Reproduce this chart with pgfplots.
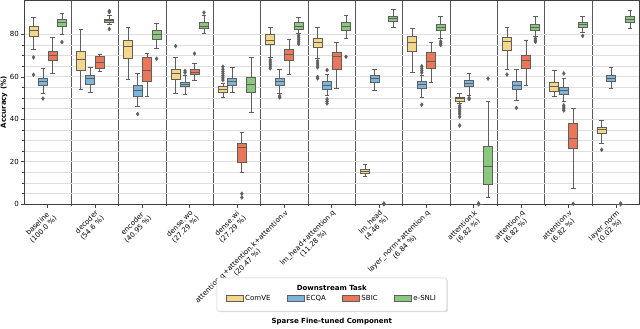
\documentclass[border=0pt]{standalone}
\usepackage{fontspec}
\setmainfont{DejaVu Sans}
\usepackage{pgfplots}
\pgfplotsset{compat=1.18}
\usepgfplotslibrary{statistics}
\usetikzlibrary{shadows}

\definecolor{cC}{HTML}{F5D78A}
\definecolor{cE}{HTML}{7DB5DA}
\definecolor{cS}{HTML}{EC7658}
\definecolor{cN}{HTML}{8BC77E}
\definecolor{lg}{HTML}{5F5F5F}

\pgfplotsset{bxs/.style={draw=lg, line width=0.8pt, mark=diamond*, mark size=2pt,
  mark options={fill=lg, draw=lg, line width=0.3pt},
  boxplot/draw direction=y,
  boxplot/box extend=0.19, boxplot/whisker extend=0.095, forget plot}}
% pos, low whisker, q1, median, q3, high whisker, colour, outliers
\newcommand{\bx}[8]{\addplot[bxs, fill=#7, boxplot prepared={draw position=#1,
  lower whisker=#2, lower quartile=#3, median=#4, upper quartile=#5, upper whisker=#6}]
  table[row sep=\\, y index=0] {y\\ #8};}

\begin{document}
\begin{tikzpicture}
\begin{axis}[
  scale only axis, width=613pt, height=203pt,
  xmin=-0.5, xmax=12.5, ymin=0, ymax=96,
  clip mode=individual,
  axis line style={draw=black!75, line width=0.9pt},
  xtick={0,...,12},
  xticklabels={{baseline\\(100.0 \%)},{decoder\\(54.6 \%)},{encoder\\(40.95 \%)},
    {dense.wo\\(27.29 \%)},{dense.wi\\(27.29 \%)},{attention.q+attention.k+attention.v\\(20.47 \%)},
    {lm\_head+attention.q\\(11.28 \%)},{lm\_head\\(4.46 \%)},{layer\_norm+attention.q\\(6.84 \%)},
    {attention.k\\(6.82 \%)},{attention.q\\(6.82 \%)},{attention.v\\(6.82 \%)},{layer\_norm\\(0.02 \%)}},
  minor xtick={0.5,1.5,...,11.5},
  xminorgrids, minor x grid style={black!65, line width=0.9pt},
  ytick={0,20,40,60,80}, minor y tick num=3,
  ymajorgrids, yminorgrids,
  major y grid style={black!13, line width=0.8pt},
  minor y grid style={black!13, line width=0.8pt},
  tick align=outside, tick pos=left,
  major tick length=3.5pt, minor tick length=2pt,
  every tick/.style={black!75, line width=0.7pt},
  /pgf/number format/assume math mode=true,
  xticklabel style={rotate=45, anchor=north east, align=center, inner sep=1pt,
    font=\fontsize{7}{8}\selectfont},
  yticklabel style={font=\fontsize{7}{8}\selectfont, inner sep=1.5pt},
  ylabel={\textbf{Accuracy (\%)}},
  ylabel style={at={(axis description cs:-0.026,0.5)}, anchor=south, inner sep=0.5pt,
    font=\fontsize{7}{8}\selectfont},
  xlabel={\textbf{Sparse Fine-tuned Component}},
  xlabel style={at={(axis description cs:0.5,-0.576)}, anchor=center, font=\fontsize{7}{8}\selectfont},
  legend columns=4,
  legend style={draw=none, fill=none, at={(0.5,-0.463)}, anchor=center,
    font=\fontsize{7}{8}\selectfont, /tikz/every even column/.append style={column sep=14pt}},
  legend image code/.code={\draw[#1] (0pt,-3pt) rectangle (17pt,3pt);},
]
% baseline
\bx{-0.3}{73.0}{79.0}{81.8}{83.6}{88.2}{cC}{69.2\\ 61.0\\}
\bx{-0.1}{52.1}{55.8}{58.0}{59.2}{63.8}{cE}{49.8\\}
\bx{0.1}{61.8}{67.8}{70.3}{72.2}{78.5}{cS}{}
\bx{0.3}{80.1}{83.6}{85.6}{87.0}{90.0}{cN}{76.4\\}
% decoder
\bx{0.7}{54.0}{63.0}{68.1}{72.2}{82.3}{cC}{}
\bx{0.9}{52.9}{56.5}{59.2}{60.7}{64.6}{cE}{}
\bx{1.1}{62.5}{63.8}{66.8}{69.7}{70.8}{cS}{}
\bx{1.3}{84.5}{85.5}{86.5}{87.3}{88.8}{cN}{90.5\\ 91.0\\ 82.5\\}
% encoder
\bx{1.7}{58.6}{68.7}{74.2}{77.3}{83.4}{cC}{}
\bx{1.9}{46.3}{51.0}{53.7}{55.8}{61.8}{cE}{42.5\\}
\bx{2.1}{50.7}{58.0}{63.0}{69.4}{71.2}{cS}{}
\bx{2.3}{73.5}{77.6}{80.2}{81.8}{85.0}{cN}{68.6\\}
% dense.wo
\bx{2.7}{52.1}{58.6}{61.5}{63.7}{69.0}{cC}{74.5\\}
\bx{2.9}{51.7}{55.3}{56.5}{57.6}{60.5}{cE}{62.0\\ 62.8\\}
\bx{3.1}{58.3}{61.1}{62.3}{63.7}{66.2}{cS}{71.0\\}
\bx{3.3}{80.7}{82.8}{84.0}{85.8}{89.0}{cN}{90.3\\}
% dense.wi
\bx{3.7}{50.4}{52.9}{54.0}{55.5}{57.0}{cC}{58.5\\ 59.5\\ 60.5\\ 61.5\\ 62.5\\ 63.5\\ 64.8\\}
\bx{3.9}{52.6}{55.8}{57.7}{59.2}{64.3}{cE}{}
\bx{4.1}{14.8}{19.9}{26.7}{28.8}{33.8}{cS}{5.0\\ 3.2\\}
\bx{4.3}{43.5}{52.6}{56.4}{59.6}{69.0}{cN}{}
% attention.q+attention.k+attention.v
\bx{4.7}{69.0}{75.1}{77.4}{79.9}{83.4}{cC}{68.0\\ 67.0\\ 66.0\\ 65.0\\ 64.0\\}
\bx{4.9}{52.1}{55.8}{57.7}{59.2}{63.5}{cE}{51.0\\ 50.3\\}
\bx{5.1}{61.3}{67.8}{70.4}{72.8}{77.7}{cS}{}
\bx{5.3}{80.6}{82.5}{84.0}{85.6}{88.2}{cN}{79.5\\ 78.5\\ 77.5\\ 76.5\\ 75.5\\}
% lm_head+attention.q
\bx{5.7}{68.7}{73.9}{76.3}{78.0}{83.4}{cC}{67.5\\ 66.5\\ 65.5\\ 64.5\\ 60.0\\ 59.3\\}
\bx{5.9}{51.3}{54.2}{55.8}{57.7}{61.1}{cE}{63.2\\ 49.5\\ 48.5\\ 47.5\\}
\bx{6.1}{54.5}{63.7}{69.5}{71.4}{76.2}{cS}{}
\bx{6.3}{78.2}{81.8}{84.0}{85.6}{88.9}{cN}{69.5\\}
% lm_head
\bx{6.7}{12.9}{14.7}{15.6}{16.6}{18.6}{cC}{}
\bx{6.9}{53.6}{57.3}{59.2}{60.5}{63.7}{cE}{}
\bx{7.1}{0}{0}{0}{0}{0}{cS}{0\\ 0.4\\}
\bx{7.3}{83.3}{86.1}{87.5}{88.5}{91.6}{cN}{}
% layer_norm+attention.q
\bx{7.7}{62.1}{72.2}{76.3}{79.3}{82.9}{cC}{}
\bx{7.9}{50.2}{54.5}{56.4}{57.7}{60.5}{cE}{62.0\\ 63.0\\ 64.0\\ 65.0\\ 46.9\\}
\bx{8.1}{57.2}{64.0}{67.2}{71.4}{76.2}{cS}{}
\bx{8.3}{78.2}{81.7}{83.3}{84.5}{88.5}{cN}{76.7\\ 75.8\\ 75.0\\}
% attention.k
\bx{8.7}{47.4}{48.5}{49.7}{50.5}{52.1}{cC}{46.4\\ 45.5\\ 44.5\\ 43.5\\ 42.5\\ 41.2\\ 37.1\\}
\bx{8.9}{51.3}{55.3}{56.9}{58.4}{61.6}{cE}{50.0\\ 49.5\\}
\bx{9.1}{0}{0}{0}{0}{0}{cS}{0\\ 0.4\\}
\bx{9.3}{3.2}{9.5}{18.0}{27.2}{48.5}{cN}{59.2\\}
% attention.q
\bx{9.7}{63.5}{72.4}{76.9}{78.7}{83.3}{cC}{61.1\\}
\bx{9.9}{49.0}{54.3}{56.2}{58.1}{63.5}{cE}{45.4\\}
\bx{10.1}{56.1}{64.0}{67.9}{70.0}{77.4}{cS}{}
\bx{10.3}{79.0}{81.8}{83.4}{84.8}{88.5}{cN}{78.0\\ 77.2\\ 76.5\\}
% attention.v
\bx{10.7}{50.9}{53.2}{55.3}{57.2}{63.2}{cC}{}
\bx{10.9}{48.5}{51.8}{53.7}{55.0}{59.2}{cE}{61.6\\ 46.6\\ 45.8\\ 45.0\\ 44.2\\}
\bx{11.1}{7.4}{26.1}{31.1}{37.9}{45.0}{cS}{0.2\\}
\bx{11.3}{81.0}{83.3}{84.6}{85.6}{88.5}{cN}{79.3\\}
% layer_norm
\bx{11.7}{28.9}{33.2}{35.1}{36.0}{39.5}{cC}{25.7\\}
\bx{11.9}{54.5}{57.7}{59.2}{60.5}{64.5}{cE}{}
\bx{12.1}{0}{0}{0}{0}{0}{cS}{0\\ 0.4\\}
\bx{12.3}{82.9}{85.8}{87.2}{88.5}{91.3}{cN}{}

\node[draw=black!20, fill=white, rounded corners=2pt,
  drop shadow={opacity=0.25, shadow xshift=1.2pt, shadow yshift=-1.2pt},
  minimum width=229pt, minimum height=33pt, anchor=north] at (rel axis cs:0.5,-0.36) {};
\node[font=\bfseries\fontsize{7}{8}\selectfont] at (rel axis cs:0.5,-0.409) {Downstream Task};

\addlegendimage{fill=cC, draw=lg, line width=0.5pt}\addlegendentry{ComVE}
\addlegendimage{fill=cE, draw=lg, line width=0.5pt}\addlegendentry{ECQA}
\addlegendimage{fill=cS, draw=lg, line width=0.5pt}\addlegendentry{SBIC}
\addlegendimage{fill=cN, draw=lg, line width=0.5pt}\addlegendentry{e-SNLI}
\end{axis}
\end{tikzpicture}
\end{document}
